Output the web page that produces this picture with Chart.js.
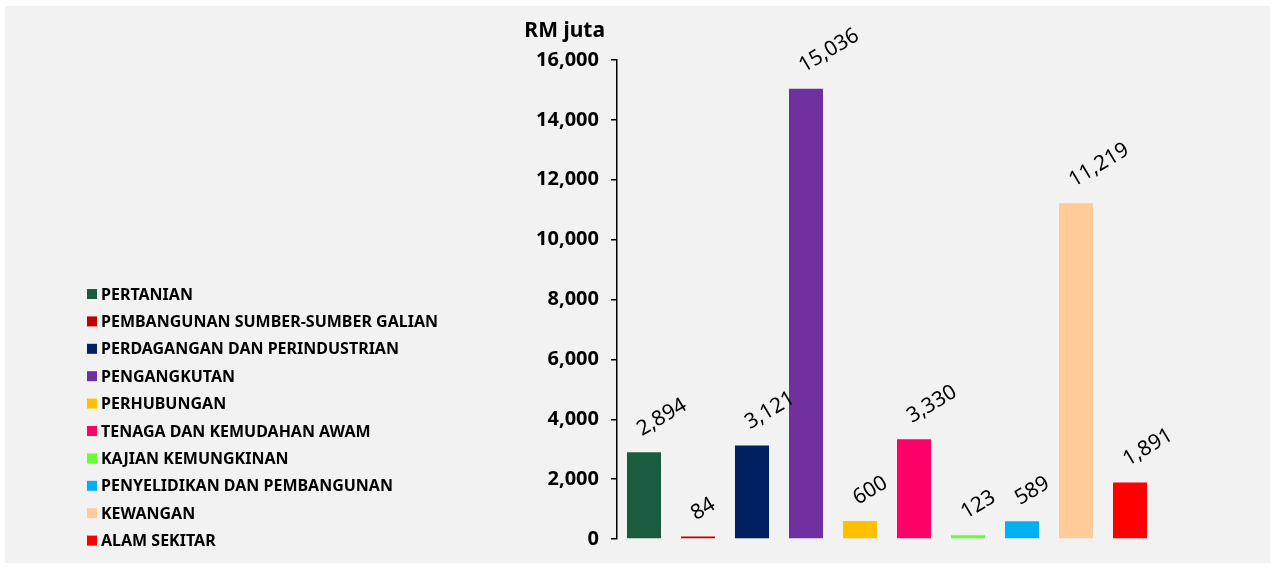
<!DOCTYPE html>
<html>
<head>
<meta charset="utf-8">
<script src="https://cdn.jsdelivr.net/npm/chart.js@4.4.1/dist/chart.umd.min.js"></script>
<style>
  body { margin: 0; background: #fff; }
  #chart { position: absolute; left: 5px; top: 6px; background: #f2f2f2; }
</style>
</head>
<body>
<canvas id="chart" width="1265" height="557"></canvas>
<script>
const sectors = [
  "PERTANIAN",
  "PEMBANGUNAN SUMBER-SUMBER GALIAN",
  "PERDAGANGAN DAN PERINDUSTRIAN",
  "PENGANGKUTAN",
  "PERHUBUNGAN",
  "TENAGA DAN KEMUDAHAN AWAM",
  "KAJIAN KEMUNGKINAN",
  "PENYELIDIKAN DAN PEMBANGUNAN",
  "KEWANGAN",
  "ALAM SEKITAR"
]
const amounts = [2894, 84, 3121, 15036, 600, 3330, 123, 589, 11219, 1891]
const colours = ["#1b5c40", "#c00000", "#002060", "#7030a0", "#ffc000",
                 "#ff0066", "#66ff33", "#00b0f0", "#ffcc99", "#ff0000"]
const yTicks = [0, 2000, 4000, 6000, 8000, 10000, 12000, 14000, 16000]
const unitLabel = "RM juta"

Chart.defaults.font.family = "'Noto Sans', sans-serif"
Chart.defaults.color = "#000"

const fmt = v => v.toLocaleString("en-US")

// value labels above bars, tilted
const barLabels = {
  id: "barLabels",
  afterDatasetsDraw(chart) {
    const ctx = chart.ctx
    const meta = chart.getDatasetMeta(0)
    ctx.save()
    ctx.font = "21px 'Noto Sans', sans-serif"
    ctx.fillStyle = "#000"
    ctx.textAlign = "left"
    ctx.textBaseline = "alphabetic"
    meta.data.forEach((bar, i) => {
      ctx.save()
      ctx.translate(bar.x - 2, bar.y - 16)
      ctx.rotate(-31 * Math.PI / 180)
      ctx.fillText(fmt(amounts[i]), 0, 0)
      ctx.restore()
    })
    ctx.restore()
  }
}

// legend on the left + unit label over the axis
const sideText = {
  id: "sideText",
  afterDraw(chart) {
    const ctx = chart.ctx
    ctx.save()
    ctx.font = "bold 21px 'Noto Sans', sans-serif"
    ctx.fillStyle = "#000"
    ctx.textAlign = "right"
    ctx.textBaseline = "middle"
    ctx.fillText(unitLabel, chart.chartArea.left - 12, 25)

    ctx.font = "bold 16px 'Noto Sans', sans-serif"
    ctx.textAlign = "left"
    sectors.forEach((name, i) => {
      let y = 288 + i * 27.4
      ctx.fillStyle = colours[i]
      ctx.fillRect(82, y - 5, 10, 10)
      ctx.fillStyle = "#000"
      ctx.fillText(name, 96, y + 1)
    })
    ctx.restore()
  }
}

new Chart(document.getElementById("chart"), {
  type: "bar",
  data: {
    labels: sectors,
    datasets: [{
      data: amounts,
      backgroundColor: colours,
      categoryPercentage: 1,
      barPercentage: 0.63
    }]
  },
  options: {
    responsive: false,
    animation: false,
    layout: { padding: { left: 532, right: 113, top: 54, bottom: 24 } },
    plugins: {
      legend: { display: false },
      tooltip: { enabled: false }
    },
    scales: {
      x: { display: false },
      y: {
        min: 0,
        max: 16000,
        afterFit(scale) { scale.width = 80 },
        afterBuildTicks(scale) { scale.ticks = yTicks.map(v => ({ value: v })) },
        border: { display: true, color: "#000", width: 1.5 },
        grid: { drawOnChartArea: false, drawTicks: true, tickLength: 6, color: "#000", lineWidth: 1.5 },
        ticks: {
          padding: 12,
          font: { size: 20, weight: "bold" },
          color: "#000",
          callback: v => fmt(v)
        }
      }
    }
  },
  plugins: [barLabels, sideText]
})
</script>
</body>
</html>
